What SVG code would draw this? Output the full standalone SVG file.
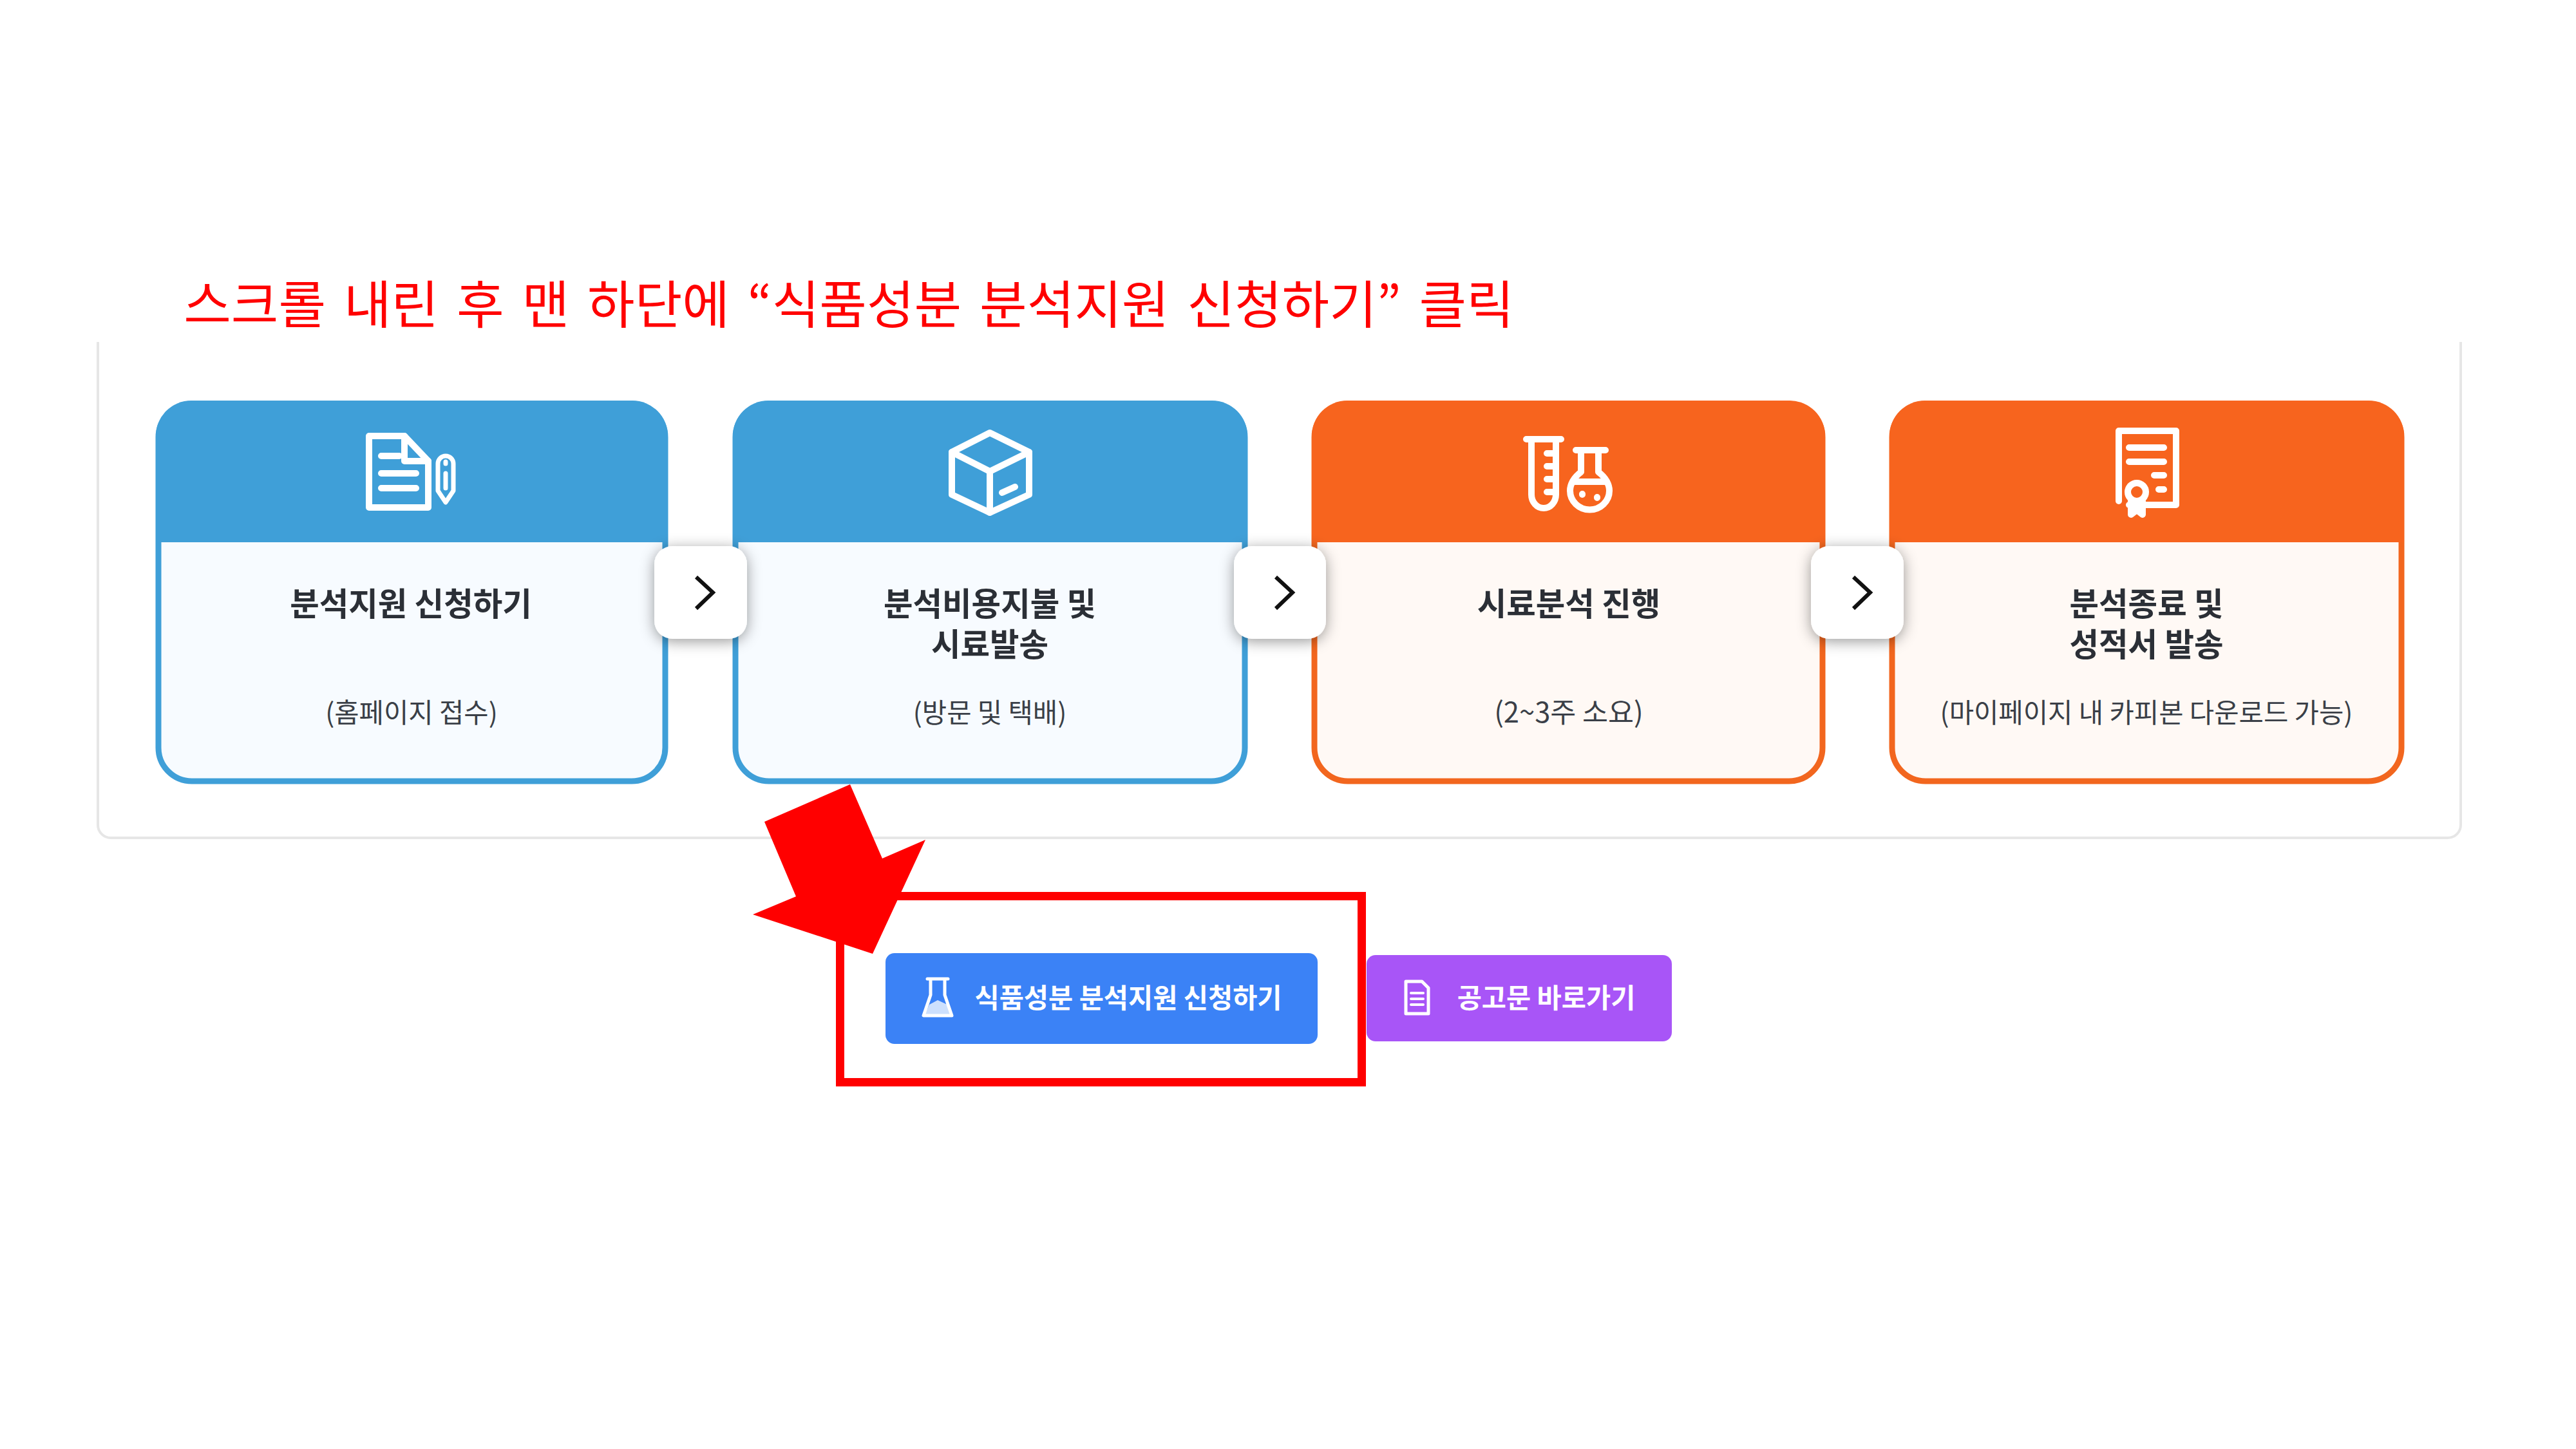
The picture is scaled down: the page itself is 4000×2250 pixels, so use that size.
<svg xmlns="http://www.w3.org/2000/svg" width="4000" height="2250" viewBox="0 0 4000 2250">
<defs>
<filter id="sh" x="-30%" y="-30%" width="160%" height="160%"><feDropShadow dx="0" dy="4" stdDeviation="11" flood-color="#000" flood-opacity="0.4"/></filter>
</defs>
<style>
text{font-family:"Noto Sans CJK KR","Noto Sans",sans-serif;text-anchor:middle}
.t{font-size:49.5px;font-weight:700;fill:#2b2f36}
.s{font-size:41.7px;font-weight:400;fill:#3a3f47}
.b{font-size:41.5px;font-weight:700;fill:#fff}
.i{fill:none;stroke:#fff;stroke-width:10;stroke-linejoin:round;stroke-linecap:round}
.bb{fill:#f7fbff;stroke:#3f9fd8;stroke-width:9}
.oo{fill:#fff9f5;stroke:#f2661e;stroke-width:9}
.bh{fill:#3f9fd8}.oh{fill:#f7641e}
.c{fill:none;stroke:#111;stroke-width:6}
.box{fill:#fff;filter:url(#sh)}
</style>
<rect width="4000" height="2250" fill="#fff"/>
<path id="panel" d="M152 531V1281a20 20 0 0 0 20 20H3801a20 20 0 0 0 20-20V531" fill="#fff" stroke="#e6e6e6" stroke-width="4"/>
<text id="title" x="1318" y="502" style="font-size:80px;fill:#f00;word-spacing:10px">스크롤 내린 후 맨 하단에 “식품성분 분석지원 신청하기” 클릭</text>

<g id="card1">
<rect class="bb" x="246" y="627" width="787" height="586" rx="52"/>
<path class="bh" d="M242 842V677a55 55 0 0 1 55-55H982a55 55 0 0 1 55 55V842Z"/>
<g class="i">
<path d="M573 677H628L665 716V788H573Z"/><path d="M628 677V716H665"/><path d="M592 708H620M592 735H646M592 758H646"/>
<path style="stroke-width:7" d="M680 720a12 12 0 0 1 24 0V762L692 780L680 762Z"/><path style="stroke-width:7" d="M692 717V720M692 735V758"/>
</g>
<text class="t" x="638" y="956">분석지원 신청하기</text>
<text class="s" x="639" y="1122">(홈페이지 접수)</text>
</g>

<g id="card2">
<rect class="bb" x="1142" y="627" width="791" height="586" rx="52"/>
<path class="bh" d="M1138 842V677a55 55 0 0 1 55-55H1882a55 55 0 0 1 55 55V842Z"/>
<g class="i">
<path d="M1537 672L1598 702V768L1537 796L1478 768V702Z"/><path d="M1478 702L1537 732L1598 702M1537 732V796"/><path d="M1556 765L1576 756"/>
</g>
<text class="t" x="1537" y="956">분석비용지불 및</text>
<text class="t" x="1537" y="1019">시료발송</text>
<text class="s" x="1537" y="1122">(방문 및 택배)</text>
</g>

<g id="card3">
<rect class="oo" x="2041" y="627" width="789" height="586" rx="52"/>
<path class="oh" d="M2037 842V677a55 55 0 0 1 55-55H2779a55 55 0 0 1 55 55V842Z"/>
<g class="i">
<path d="M2370 682H2424M2378 682V768a19 21 0 0 0 38 0V682"/><path d="M2402 704H2414M2402 724H2414M2402 744H2414M2402 764H2414"/>
<path d="M2447 699H2493M2455 699V733C2444 741 2438 752 2438 762a30 29 0 0 0 61 0C2499 752 2493 741 2482 733V699"/><path d="M2442 748H2495"/><path d="M2457 767V768M2480 772V773"/>
</g>
<text class="t" x="2436" y="956">시료분석 진행</text>
<text class="s" style="font-size:43.5px" x="2436" y="1122">(2~3주 소요)</text>
</g>

<g id="card4">
<rect class="oo" x="2938" y="627" width="791" height="586" rx="52"/>
<path class="oh" d="M2934 842V677a55 55 0 0 1 55-55H3678a55 55 0 0 1 55 55V842Z"/>
<g class="i">
<path d="M3306 784H3379V669H3290V778"/><path d="M3306 695H3360M3306 717H3360M3345 738H3360M3352 760H3360"/>
<circle cx="3318" cy="764" r="14"/><path d="M3309 778V799L3318 792L3327 799V778"/>
</g>
<text class="t" x="3333" y="956">분석종료 및</text>
<text class="t" x="3333" y="1019">성적서 발송</text>
<text class="s" x="3333" y="1122">(마이페이지 내 카피본 다운로드 가능)</text>
</g>

<g id="connectors">
<g id="next1"><rect class="box" x="1016" y="848" width="144" height="144" rx="28"/><path class="c" d="M1081 896L1107 920L1081 945"/></g>
<g id="next2"><rect class="box" x="1916" y="848" width="143" height="144" rx="28"/><path class="c" d="M1981 896L2007 920L1981 945"/></g>
<g id="next3"><rect class="box" x="2812" y="848" width="144" height="144" rx="28"/><path class="c" d="M2878 896L2904 920L2878 945"/></g>
</g>

<g id="btn-apply">
<rect x="1375" y="1480" width="671" height="141" rx="14" fill="#3b82f6"/>
<path class="i" style="stroke-width:5" d="M1440 1520H1472M1445 1520V1545L1434 1577H1478L1467 1545V1520"/>
<path d="M1443 1560L1456 1553L1471 1560L1476 1576H1436Z" fill="#fff" fill-opacity=".75"/>
<text class="b" x="1752" y="1565">식품성분 분석지원 신청하기</text>
</g>
<g id="btn-notice">
<rect x="2122" y="1483" width="474" height="134" rx="14" fill="#a855f7"/>
<path class="i" style="stroke-width:5" d="M2183 1524H2208L2218 1534V1574H2183Z"/><path class="i" style="stroke-width:4" d="M2191 1542H2210M2191 1551H2210M2191 1560H2210"/>
<text class="b" x="2401" y="1565">공고문 바로가기</text>
</g>

<rect id="highlight" x="1304.5" y="1391.5" width="810" height="289" fill="none" stroke="#f00" stroke-width="13"/>
<polygon id="pointer" points="1320,1218 1187,1276 1236,1392 1169,1420 1355,1481 1437,1304 1370,1333" fill="#f00"/>
</svg>
